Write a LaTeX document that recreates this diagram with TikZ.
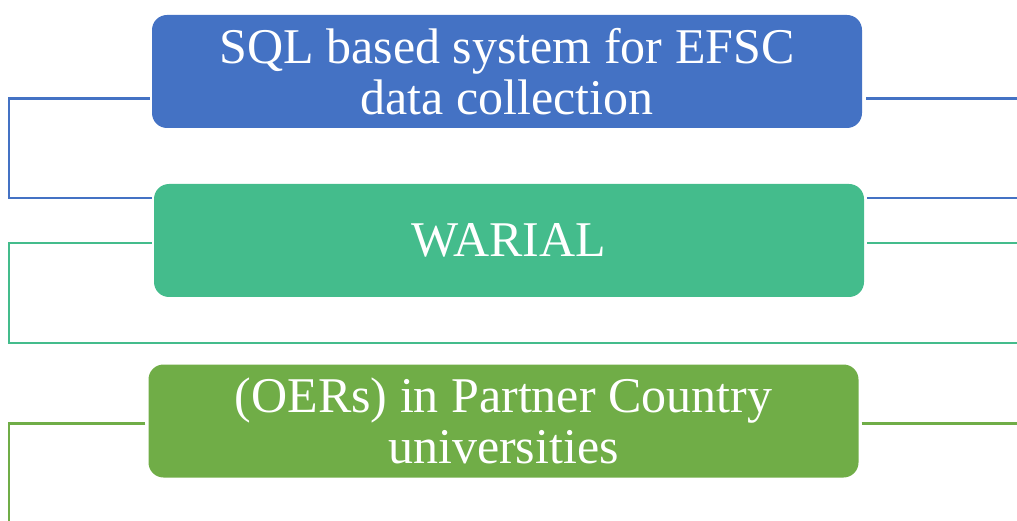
\documentclass[tikz,border=0pt]{standalone}
\usepackage{fontspec}
\setmainfont{Liberation Serif}
\newfontfamily\itemfont{Liberation Serif}
\usepackage{xcolor}
\usetikzlibrary{calc}
\definecolor{boxblue}{HTML}{4472C4}
\definecolor{boxteal}{HTML}{44BC8C}
\definecolor{boxgreen}{HTML}{70AD47}
\newcommand{\xleft}{9}
\newcommand{\xright}{1017}
\tikzset{
  item/.style={rounded corners=15pt, minimum width=710pt, minimum height=113pt,
    inner sep=0pt, text=white, align=center, font=\itemfont\fontsize{50}{51}\selectfont},
  link/.style={line width=2.5pt}
}

\begin{document}
\begin{tikzpicture}[x=1pt,y=-1pt]

    \useasboundingbox (0,0) rectangle (1017,521);

    \node[item,fill=boxblue] (sql) at (507,71.5) {SQL based system for EFSC\\data collection};
    \node[item,fill=boxteal] (warial) at (509,240.5) {WARIAL};
    \node[item,fill=boxgreen] (oer) at (503.5,421) {(OERs) in Partner Country\\universities};

    % blue
    \draw[link,boxblue] ($(sql.west)+(-2,27)$) -- (\xleft,98.5) -- (\xleft,198) -- ($(warial.west)+(-2,-42.5)$);
    \draw[link,boxblue] ($(sql.east)+(4,27)$) -- (\xright,98.5);
    \draw[link,boxblue] ($(warial.east)+(3,-42.5)$) -- (\xright,198);

    % teal
    \draw[link,boxteal] ($(warial.west)+(-2,2.5)$) -- (\xleft,243) -- (\xleft,343) -- (\xright,343);
    \draw[link,boxteal] ($(warial.east)+(3,2.5)$) -- (\xright,243);

    % green
    \draw[link,boxgreen] ($(oer.west)+(-3,2.5)$) -- (\xleft,423.5) -- (\xleft,521);
    \draw[link,boxgreen] ($(oer.east)+(3,2.5)$) -- (\xright,423.5);

\end{tikzpicture}
\end{document}
